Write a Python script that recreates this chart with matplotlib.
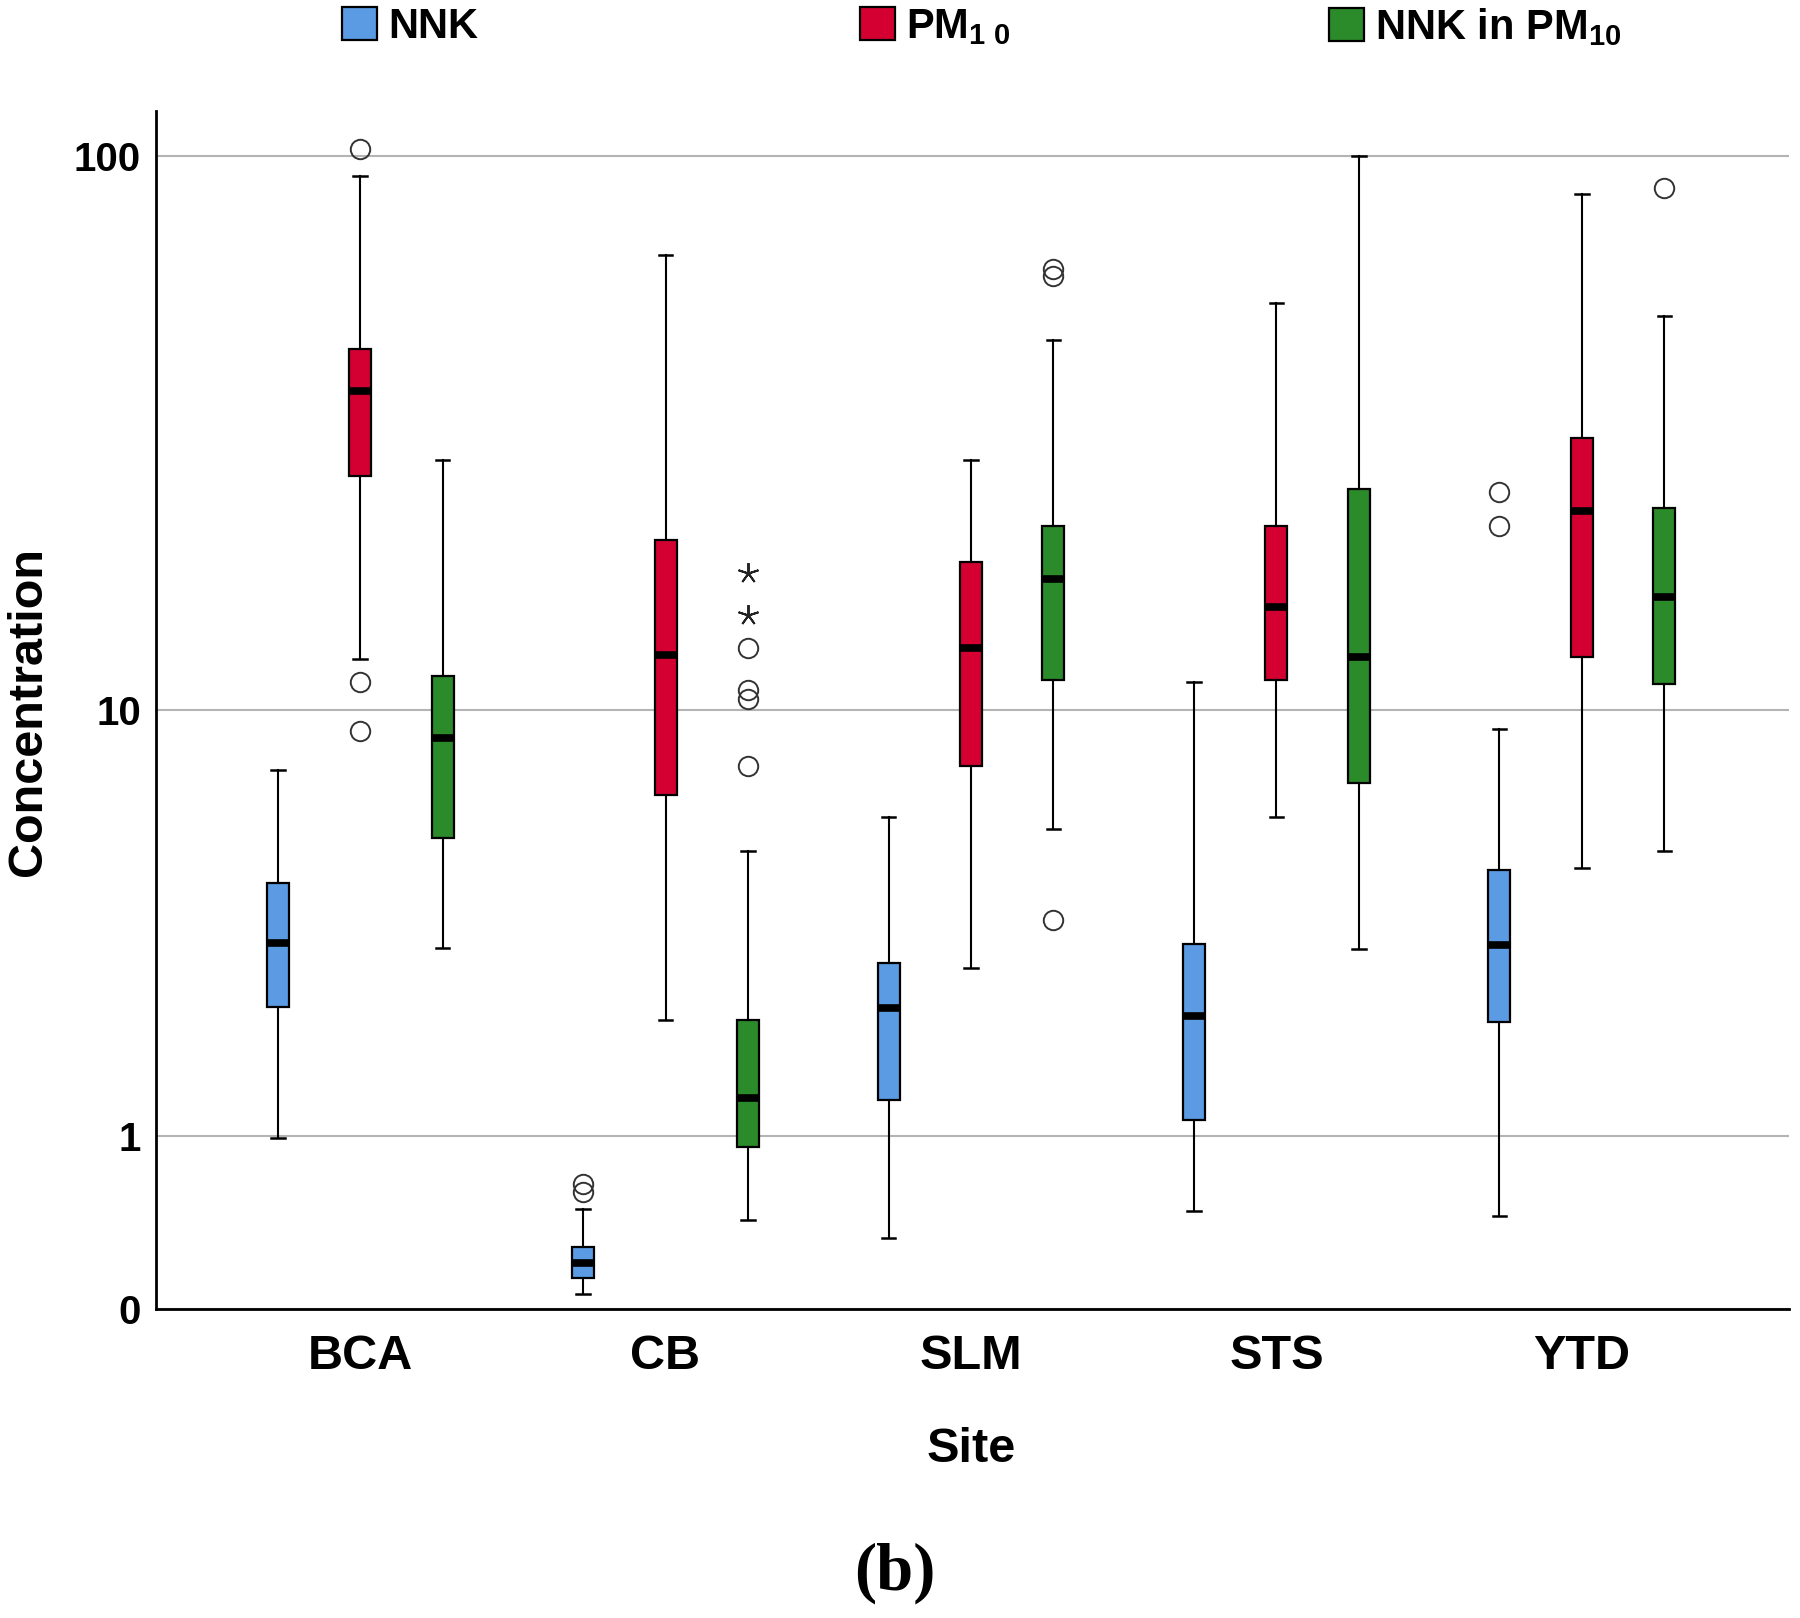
import matplotlib.pyplot as plt
import numpy as np
from matplotlib.patches import Patch

plt.rcParams["font.family"] = ["Liberation Sans", "DejaVu Sans"]
plt.rcParams["font.weight"] = "bold"
plt.rcParams["mathtext.fontset"] = "custom"
plt.rcParams["mathtext.rm"] = "Liberation Sans:bold"
plt.rcParams["mathtext.it"] = "Liberation Sans:bold"
plt.rcParams["mathtext.bf"] = "Liberation Sans:bold"

# datos (concentracion por sitio)
SITES = ["BCA", "CB", "SLM", "STS", "YTD"]
SERIES_LABELS = ["NNK", r"PM$_{1\ 0}$", r"NNK in PM$_{10}$"]
COLORS = ["#5a9be3", "#d50032", "#2b8a29"]

nnk_whislo = [0.98, 0.06, 0.33, 0.48, 0.45]
nnk_q1 = [2.35, 0.13, 1.31, 1.13, 2.16]
nnk_med = [3.32, 0.20, 2.33, 2.23, 3.30]
nnk_q3 = [4.51, 0.28, 2.99, 3.31, 4.79]
nnk_whishi = [7.65, 0.49, 6.17, 11.3, 9.2]
nnk_outliers = [[], [0.60, 0.65], [], [], [22.0, 25.3]]
nnk_extremes = [[], [], [], [], []]

pm_whislo = [12.5, 2.18, 2.91, 6.18, 4.84]
pm_q1 = [27.1, 6.83, 7.8, 11.4, 12.6]
pm_med = [38.4, 12.7, 13.1, 15.6, 23.4]
pm_q3 = [45.6, 20.7, 18.9, 22.0, 31.7]
pm_whishi = [92.4, 67.0, 28.9, 55.0, 85.8]
pm_outliers = [[102.9, 11.3, 9.1], [], [], [], []]
pm_extremes = [[], [], [], [], []]

npm_whislo = [3.24, 0.425, 5.83, 3.23, 5.26]
npm_q1 = [5.58, 0.915, 11.4, 7.22, 11.2]
npm_med = [8.84, 1.33, 17.6, 12.6, 16.3]
npm_q3 = [11.6, 2.18, 22.0, 25.6, 23.7]
npm_whishi = [28.9, 5.25, 47.4, 100.0, 52.3]
npm_outliers = [[], [13.1, 10.9, 10.5, 7.8], [63.3, 61.5, 3.74], [], [87.8]]
npm_extremes = [[], [18.0, 15.1], [], [], []]

Y_TICKS = [0, 1, 10, 100]

SERIES = [
    (nnk_whislo, nnk_q1, nnk_med, nnk_q3, nnk_whishi, nnk_outliers, nnk_extremes),
    (pm_whislo, pm_q1, pm_med, pm_q3, pm_whishi, pm_outliers, pm_extremes),
    (npm_whislo, npm_q1, npm_med, npm_q3, npm_whishi, npm_outliers, npm_extremes),
]
OFFSETS = [-0.27, 0.0, 0.27]


def forward(v):
    return np.log10(np.asarray(v, dtype=float) + 1)


def inverse(t):
    return 10 ** np.asarray(t, dtype=float) - 1


fig = plt.figure(figsize=(18, 16.18), dpi=100)
ax = fig.add_axes([0.0867, 0.191, 0.9072, 0.7404])
ax.set_yscale("function", functions=(forward, inverse))

x = np.arange(len(SITES))
for (lo, q1, med, q3, hi, outl, extr), off, color in zip(SERIES, OFFSETS, COLORS):
    stats = []
    for i in range(len(SITES)):
        stats.append({"whislo": lo[i], "q1": q1[i], "med": med[i], "q3": q3[i],
                      "whishi": hi[i], "fliers": outl[i]})
    ax.bxp(stats, positions=x + off, widths=0.072, capwidths=0.045,
           patch_artist=True, showfliers=True, manage_ticks=False,
           boxprops=dict(facecolor=color, edgecolor="black", linewidth=1.6),
           medianprops=dict(color="black", linewidth=5.5, solid_capstyle="butt"),
           whiskerprops=dict(color="black", linewidth=1.5),
           capprops=dict(color="black", linewidth=1.8),
           flierprops=dict(marker="o", markerfacecolor="none", markeredgecolor="#333333",
                           markersize=14, markeredgewidth=1.4, linestyle="none"))
    # valores extremos (asteriscos)
    for i, vals in enumerate(extr):
        if vals:
            ax.plot([x[i] + off] * len(vals), vals, linestyle="none",
                    marker=(5, 2, 0), markersize=15, color="#222222", markeredgewidth=1.4)

ax.set_xlim(-0.668, 4.678)
ax.set_ylim(0, 120)
ax.set_yticks(Y_TICKS)
ax.set_yticklabels([str(t) for t in Y_TICKS])
ax.set_xticks(x)
ax.set_xticklabels(SITES)
ax.tick_params(axis="y", length=0, pad=11, labelsize=29)
ax.tick_params(axis="x", length=0, pad=18, labelsize=35)
for lab in ax.get_xticklabels() + ax.get_yticklabels():
    lab.set_fontweight("bold")

ax.yaxis.grid(True, color="#b4b4b4", linewidth=1.5)
ax.set_axisbelow(True)
for side in ["top", "right"]:
    ax.spines[side].set_visible(False)
for side in ["left", "bottom"]:
    ax.spines[side].set_linewidth(2)
    ax.spines[side].set_color("black")

fig.text(29 / 1800, 1 - 711 / 1618, "Concentration", rotation=90, ha="center", va="center",
         fontsize=35, fontweight="bold")
fig.text(971 / 1800, 1 - 1449 / 1618, "Site", ha="center", va="center",
         fontsize=35, fontweight="bold")
fig.text(895 / 1800, 1 - 1573 / 1618, "(b)", ha="center", va="center",
         fontsize=48, fontweight="bold", family="Liberation Serif")

# leyenda: cada entrada en su propia posicion como en el original
legend_x = [342, 860, 1329]
for label, color, lx in zip(SERIES_LABELS, COLORS, legend_x):
    handle = Patch(facecolor=color, edgecolor="black", linewidth=1.6)
    fig.legend(handles=[handle], labels=[label], loc="center left",
               bbox_to_anchor=(lx / 1800, 1 - 27 / 1618), frameon=False,
               borderpad=0, borderaxespad=0, handlelength=0.84, handleheight=0.82,
               handletextpad=0.26, prop=dict(size=30, weight="bold"))

fig.savefig("out.png", dpi=100)
